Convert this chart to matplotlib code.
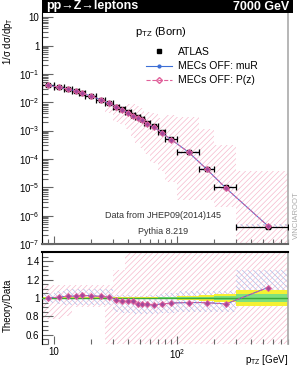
import numpy as np
import matplotlib
matplotlib.use("Agg")
import matplotlib.pyplot as plt
from matplotlib.patches import Rectangle
from matplotlib.ticker import FixedLocator, LogLocator, MultipleLocator, NullFormatter

plt.rcParams['font.family'] = ['Liberation Sans', 'DejaVu Sans']
plt.rcParams['mathtext.fontset'] = 'custom'
plt.rcParams['mathtext.rm'] = 'Liberation Sans'
plt.rcParams['mathtext.it'] = 'Liberation Sans:italic'
plt.rcParams['hatch.linewidth'] = 0.45

# %%
# Data
bin_edges = [8, 10, 12, 14, 16, 18, 22, 26, 30, 34, 38, 42, 46, 50, 54, 60, 70, 80, 100, 150, 200, 300, 800]
bin_centers = [9, 11, 13, 15, 17, 20, 24, 28, 32, 36, 40, 44, 48, 52, 57, 65, 75, 90, 125, 175, 250, 550]
atlas = [0.0402, 0.0333, 0.0283, 0.0247, 0.0205, 0.0160, 0.0122, 0.0091, 0.0069, 0.0057, 0.0044,
         0.00352, 0.00292, 0.00248, 0.00188, 0.00144, 0.00091, 0.00051, 1.79e-4, 4.5e-5, 1.0e-5, 3.9e-7]
atlas_tot_rel = [0.01, 0.01, 0.01, 0.01, 0.01, 0.01, 0.01, 0.01, 0.01, 0.01, 0.01,
                 0.012, 0.012, 0.012, 0.012, 0.012, 0.015, 0.015, 0.02, 0.03, 0.04, 0.09]
atlas_stat_rel = [0.004, 0.004, 0.004, 0.004, 0.004, 0.004, 0.004, 0.004, 0.004, 0.004, 0.004,
                  0.005, 0.005, 0.005, 0.005, 0.005, 0.006, 0.006, 0.01, 0.015, 0.02, 0.045]

mc_mur = [0.0402, 0.0336, 0.0289, 0.0252, 0.0211, 0.0164, 0.0124, 0.0092, 0.0068, 0.0055, 0.0042,
          0.00340, 0.00272, 0.00231, 0.00175, 0.00133, 0.00085, 0.00048, 1.70e-4, 4.3e-5, 9.4e-6, 4.3e-7]
mc_pz = [0.0402, 0.0336, 0.0289, 0.0252, 0.0211, 0.0164, 0.0124, 0.0092, 0.0068, 0.0055, 0.0042,
         0.00340, 0.00272, 0.00231, 0.00175, 0.00133, 0.00085, 0.00048, 1.70e-4, 4.3e-5, 9.4e-6, 4.3e-7]

ratio_mur = [1.00, 1.01, 1.02, 1.02, 1.028, 1.025, 1.017, 1.01, 0.982, 0.964, 0.964,
             0.964, 0.93, 0.93, 0.93, 0.925, 0.935, 0.946, 0.95, 0.95, 0.935, 1.114]
ratio_pz = [1.00, 1.01, 1.02, 1.02, 1.028, 1.025, 1.017, 1.01, 0.982, 0.964, 0.964,
            0.964, 0.93, 0.93, 0.93, 0.925, 0.935, 0.946, 0.95, 0.95, 0.935, 1.114]

# variation envelopes, relative to data
pz_lo = [0.77, 0.77, 0.80, 0.90, 0.90, 0.90, 0.90, 0.45, 0.30, 0.30, 0.25,
         0.15, 0.12, 0.10, 0.08, 0.05, 0.04, 0.03, 0.02, 0.08, 0.20, 0.01]
pz_hi = [1.14, 1.14, 1.14, 1.14, 1.14, 1.14, 1.14, 1.14, 1.30, 1.30, 2.0,
         2.5, 2.5, 2.5, 2.5, 3.0, 3.0, 7.0, 17.0, 25.0, 30.0, 100.0]
mur_lo = [0.95, 0.93, 0.92, 0.92, 0.92, 0.92, 0.92, 0.92, 0.85, 0.84, 0.84,
          0.83, 0.83, 0.83, 0.83, 0.83, 0.84, 0.84, 0.85, 0.85, 0.85, 0.95]
mur_hi = [1.05, 1.08, 1.10, 1.10, 1.10, 1.10, 1.10, 1.10, 1.03, 1.03, 1.03,
          1.02, 1.02, 1.02, 1.02, 1.03, 1.04, 1.05, 1.08, 1.08, 1.08, 1.30]

y_ticks = [1e-7, 1e-6, 1e-5, 1e-4, 1e-3, 1e-2, 1e-1, 1, 10]
y_ticklabels = ['$10^{-7}$', '$10^{-6}$', '$10^{-5}$', '$10^{-4}$', '$10^{-3}$', '$10^{-2}$', '$10^{-1}$', '1', '10']
r_ticks = [0.6, 0.8, 1.0, 1.2, 1.4]
r_ticklabels = ['0.6', '0.8', '1', '1.2', '1.4']

# %%
c_blue = '#3d6fd6'
c_pink = '#e0609a'
c_pink_h = '#f5b3c8'
c_blue_h = '#a9b9e8'
grey = '#666666'

edges = np.array(bin_edges, dtype=float)
x = np.array(bin_centers, dtype=float)
data = np.array(atlas)
xerr = [x - edges[:-1], edges[1:] - x]


def step(v):
    v = np.asarray(v, dtype=float)
    return np.append(v, v[-1])


W, H = 303, 379
fig = plt.figure(figsize=(W / 100, H / 100), dpi=100)
ax1 = fig.add_axes([42 / W, 1 - 244 / H, 246 / W, 231 / H])
ax2 = fig.add_axes([42 / W, 1 - 344 / H, 246 / W, 92 / H])

# main panel
ax1.fill_between(edges, step(data * np.array(pz_lo)), step(data * np.array(pz_hi)), step='post',
                 facecolor='none', edgecolor=c_pink_h, hatch='//////', linewidth=0)
ax1.fill_between(edges, step(data * np.array(mur_lo)), step(data * np.array(mur_hi)), step='post',
                 facecolor='none', edgecolor=c_blue_h, hatch='\\\\\\\\\\\\', linewidth=0)
ax1.errorbar(x, data, xerr=xerr, yerr=data * np.array(atlas_tot_rel), fmt='s', ms=3, color='black',
             elinewidth=0.9, capsize=2, capthick=0.9, zorder=3)
ax1.plot(x, mc_mur, '-', color=c_blue, lw=0.7, marker='o', ms=2, zorder=4)
ax1.plot(x, mc_pz, '--', color=c_pink, lw=0.7, marker='D', ms=3, mfc='#a0489a', mec=c_pink, mew=0.7, zorder=5)

ax1.set_xscale('log')
ax1.set_yscale('log')
ax1.set_xlim(8, 800)
ax1.set_ylim(1e-7, 14)
ax1.yaxis.set_major_locator(FixedLocator(y_ticks))
ax1.set_yticklabels(y_ticklabels)
ax1.yaxis.set_minor_locator(LogLocator(base=10, subs=np.arange(2, 10)))
ax1.yaxis.set_minor_formatter(NullFormatter())
ax1.xaxis.set_major_formatter(NullFormatter())
ax1.xaxis.set_minor_formatter(NullFormatter())

# ratio panel
ax2.fill_between(edges, step(pz_lo), step(pz_hi), step='post',
                 facecolor='none', edgecolor=c_pink_h, hatch='//////', linewidth=0)
ax2.fill_between(edges, step(mur_lo), step(mur_hi), step='post',
                 facecolor='none', edgecolor=c_blue_h, hatch='\\\\\\\\\\\\', linewidth=0)
ax2.fill_between(edges, step(1 - np.array(atlas_tot_rel)), step(1 + np.array(atlas_tot_rel)), step='post',
                 color='#f5f032', linewidth=0, zorder=2)
ax2.fill_between(edges, step(1 - np.array(atlas_stat_rel)), step(1 + np.array(atlas_stat_rel)), step='post',
                 color='#7ee07e', linewidth=0, zorder=2)
ax2.axhline(1, color='#3aa83a', lw=1.0, zorder=3)
ax2.plot(x, ratio_mur, '-', color=c_blue, lw=0.7, marker='o', ms=2, zorder=4)
ax2.plot(x, ratio_pz, '--', color=c_pink, lw=0.7, marker='D', ms=3, mfc='#a0489a', mec=c_pink, mew=0.7, zorder=5)

ax2.set_xscale('log')
ax2.set_xlim(8, 800)
ax2.set_ylim(0.5, 1.5)
ax2.yaxis.set_major_locator(FixedLocator(r_ticks))
ax2.set_yticklabels(r_ticklabels)
ax2.yaxis.set_minor_locator(MultipleLocator(0.05))
ax2.xaxis.set_major_locator(FixedLocator([10, 100]))
ax2.set_xticklabels(['10', '$10^2$'])
ax2.xaxis.set_minor_formatter(NullFormatter())

for ax in (ax1, ax2):
    ax.tick_params(which='both', direction='in', colors=grey, labelcolor='black', labelsize=7,
                   top=False, right=False, width=0.8)
    ax.tick_params(axis='y', which='major', length=8)
    ax.tick_params(axis='y', which='minor', length=4)
    ax.tick_params(axis='x', which='major', length=6)
    ax.tick_params(axis='x', which='minor', length=3.5)
    ax.spines['left'].set_color('black')
    ax.spines['right'].set_color('#aaaaaa')
    ax.spines['right'].set_linewidth(1.2)
ax1.spines['top'].set_visible(False)
ax1.spines['bottom'].set_color(grey)
ax1.spines['bottom'].set_linewidth(1.5)
ax2.spines['top'].set_color('black')
ax2.spines['top'].set_linewidth(1.5)
ax2.spines['bottom'].set_visible(False)
ax2.tick_params(axis='x', pad=2)
ax1.tick_params(axis='y', pad=2)
ax2.tick_params(axis='y', pad=2)

# header bar
fig.patches.append(Rectangle((42 / W, 1 - 13 / H), 251 / W, 13 / H, transform=fig.transFigure,
                             facecolor='black', edgecolor='none'))
fig.text(46 / W, 1 - 6.5 / H, 'pp→Z→leptons', color='white', fontsize=9, fontweight='bold', va='center', ha='left')
fig.text(289 / W, 1 - 6.5 / H, '7000 GeV', color='white', fontsize=9, fontweight='bold', va='center', ha='right')

# labels
fig.text(8 / W, 1 - 17 / H, r'1/σ dσ/dp$_{\mathregular{T}}$', rotation=90, fontsize=7, ha='center', va='top')
fig.text(8 / W, 1 - 305 / H, 'Theory/Data', rotation=90, fontsize=7, ha='center', va='center')
fig.text(288 / W, 1 - 360 / H, r'p$_{\mathregular{TZ}}$ [GeV]', fontsize=7, ha='right', va='center')
fig.text(161 / W, 1 - 32 / H, r'p$_{\mathregular{TZ}}$ (Born)', fontsize=8, ha='center', va='center')
fig.text(163 / W, 1 - 215 / H, 'Data from JHEP09(2014)145', fontsize=6.5, color='#333333', ha='center', va='center')
fig.text(163 / W, 1 - 231 / H, 'Pythia 8.219', fontsize=6.5, color='#333333', ha='center', va='center')
fig.text(296 / W, 1 - 215 / H, 'VINCIAROOT', rotation=90, fontsize=5.5, color='#aaaaaa', ha='center', va='center')

# legend
h_data = ax1.plot([], [], 's', color='black', ms=3)[0]
h_mur = ax1.plot([], [], '-', color=c_blue, lw=0.8, marker='o', ms=2)[0]
h_pz = ax1.plot([], [], '--', color=c_pink, lw=0.8, marker='D', ms=3, mfc='none', mec=c_pink)[0]
ax1.legend([h_data, h_mur, h_pz], ['ATLAS', 'MECs OFF: muR', 'MECs OFF: P(z)'],
           loc='upper left', bbox_to_anchor=((146 - 42) / 246, 1 - (47 - 13) / 231),
           frameon=False, fontsize=7.5, handlelength=2.5, handletextpad=0.6, labelspacing=0.4,
           borderaxespad=0, borderpad=0)

fig.savefig('out.png', dpi=100)
